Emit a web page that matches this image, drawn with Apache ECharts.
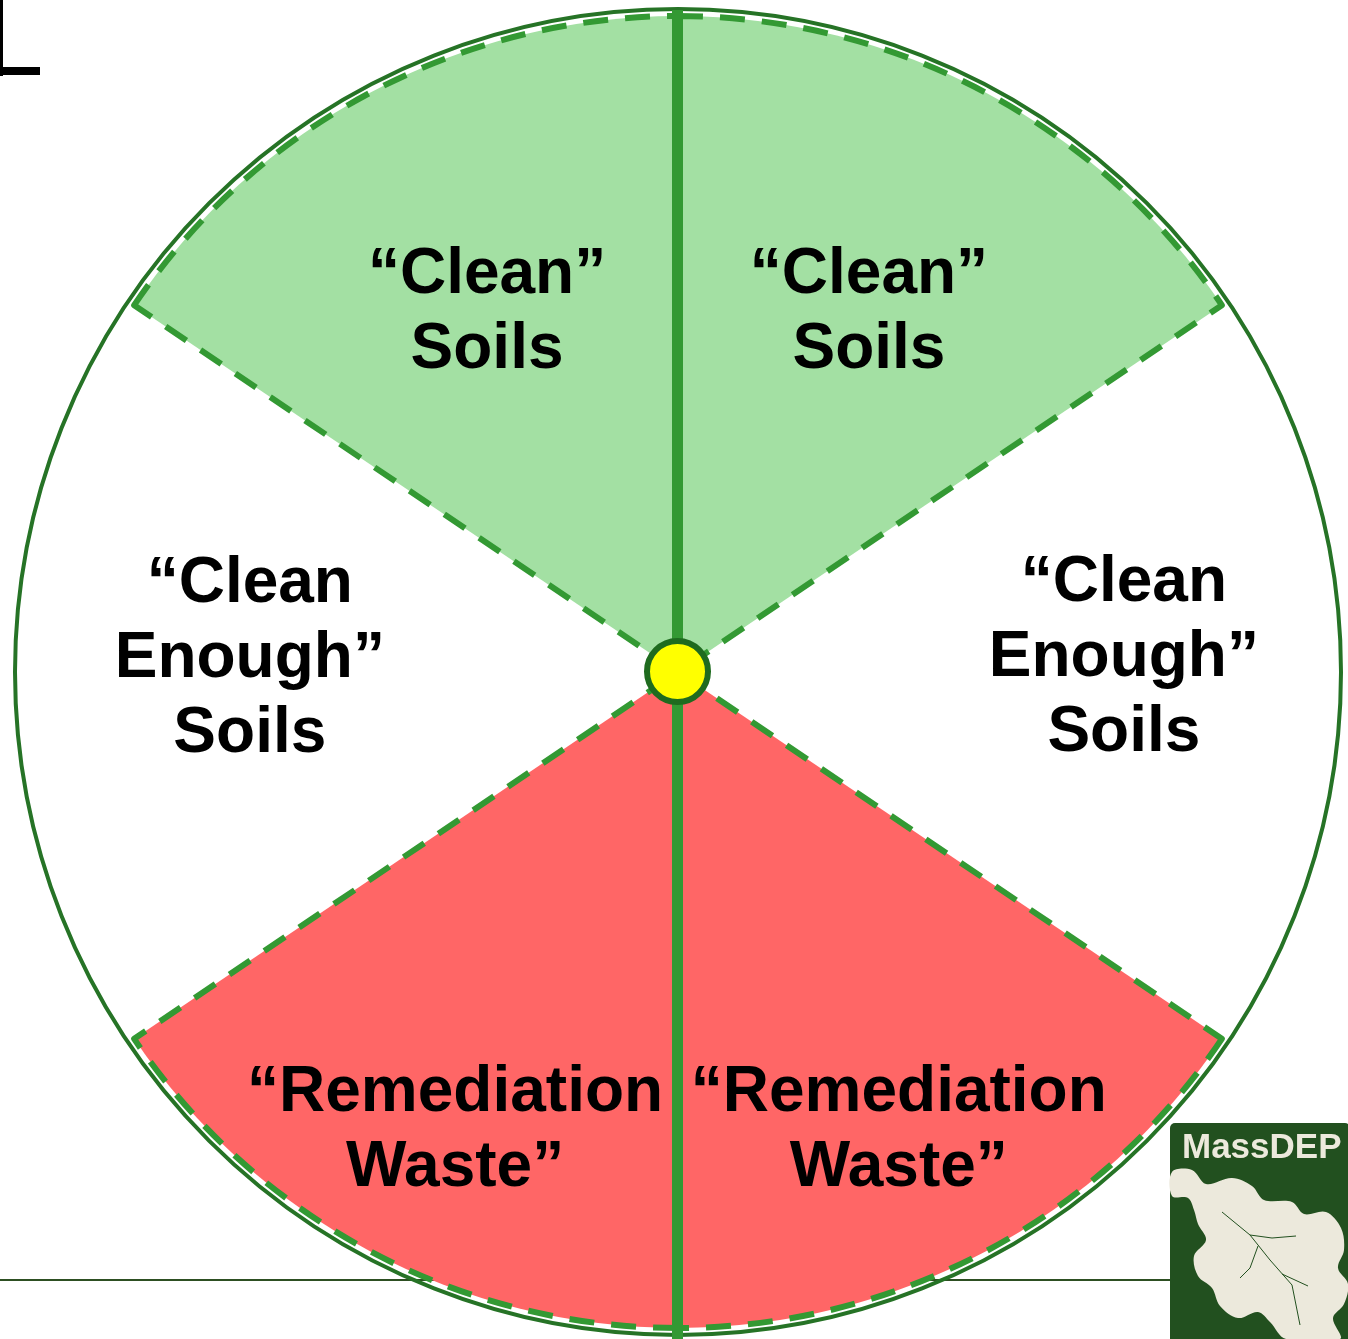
<!DOCTYPE html>
<html>
<head>
<meta charset="utf-8">
<script src="https://cdn.jsdelivr.net/npm/echarts@6/dist/echarts.min.js"></script>
<style>
  html, body { margin: 0; padding: 0; background: #fff; }
  #chart1 { width: 1348px; height: 1339px; }
</style>
</head>
<body>
<div id="chart1"></div>
<script>
// sectors, clockwise from 12 o'clock
var names = ['“Clean”\nSoils', '“Clean\nEnough”\nSoils', '“Remediation\nWaste”',
             '“Remediation\nWaste”', '“Clean\nEnough”\nSoils', '“Clean”\nSoils'];
var values = [56, 68, 56, 56, 68, 56];
var fills = ['#a3e0a3', 'transparent', '#ff6666', '#ff6666', 'transparent', '#a3e0a3'];
// where each label sits: polar angle (deg) and share of the radius
var labelAngle = [62, 1.7, -64.3, -115.9, 178.3, 118];
var labelRadius = [0.62, 0.68, 0.776, 0.778, 0.653, 0.62];

var cx = 678, cy = 672, R = 656;

document.addEventListener('DOMContentLoaded', function () {
  var myChart = echarts.init(document.getElementById('chart1'));

  var pieData = names.map(function (n, i) {
    var colored = fills[i] !== 'transparent';
    return {
      name: n,
      value: values[i],
      itemStyle: {
        color: fills[i],
        borderColor: colored ? '#339933' : 'transparent',
        borderWidth: colored ? 6 : 0,
        borderType: [25, 17]
      }
    };
  });

  var option = {
    animation: false,
    graphic: [
      // little "L" fragment top-left
      { type: 'rect', shape: { x: 0, y: 0, width: 3, height: 76 }, style: { fill: '#000' }, z: 1 },
      { type: 'rect', shape: { x: 0, y: 67, width: 40, height: 8 }, style: { fill: '#000' }, z: 1 },
      // slide rule line
      { type: 'line', shape: { x1: 0, y1: 1280, x2: 1175, y2: 1280 }, style: { stroke: '#2d4f22', lineWidth: 2 }, z: -1 },
      // outer circle
      { type: 'circle', shape: { cx: cx, cy: cy, r: 663 }, style: { fill: null, stroke: '#267326', lineWidth: 4 }, z: 10 },
      // centre divider
      { type: 'rect', shape: { x: 672, y: 10, width: 11, height: 1329 }, style: { fill: '#339933' }, z: 11 },
      // centre dot
      { type: 'circle', shape: { cx: cx - 0.5, cy: cy - 0.5, r: 30.5 }, style: { fill: '#ffff00', stroke: '#1f6b1f', lineWidth: 6 }, z: 12 },
      // MassDEP logo
      { type: 'rect', shape: { x: 1170, y: 1123, width: 180, height: 220, r: 5 }, style: { fill: '#22501f' }, z: 13 },
      { type: 'text', x: 1182, y: 1166, style: { text: 'MassDEP', fill: '#ece9dc', font: 'bold 35px "Liberation Sans", Arial, sans-serif', textVerticalAlign: 'bottom' }, z: 14 },
      {
        type: 'polygon', z: 14,
        shape: {
          smooth: 0.35,
          points: [[1172, 1172], [1192, 1170], [1206, 1184], [1232, 1178], [1252, 1186], [1264, 1200],
                   [1292, 1202], [1304, 1214], [1326, 1212], [1341, 1228], [1344, 1250], [1338, 1268],
                   [1348, 1284], [1344, 1304], [1333, 1318], [1340, 1339], [1286, 1339], [1270, 1322],
                   [1258, 1312], [1238, 1318], [1220, 1306], [1212, 1288], [1198, 1276], [1194, 1256],
                   [1206, 1240], [1198, 1224], [1194, 1210], [1188, 1198], [1172, 1196]]
        },
        style: { fill: '#ece9dc' }
      },
      { type: 'polyline', z: 15, shape: { points: [[1222, 1212], [1250, 1235], [1270, 1260], [1292, 1285], [1300, 1325]] }, style: { stroke: '#22501f', lineWidth: 1, fill: null } },
      { type: 'polyline', z: 15, shape: { points: [[1250, 1235], [1272, 1238], [1296, 1236]] }, style: { stroke: '#22501f', lineWidth: 1, fill: null } },
      { type: 'polyline', z: 15, shape: { points: [[1258, 1246], [1250, 1268], [1240, 1278]] }, style: { stroke: '#22501f', lineWidth: 1, fill: null } },
      { type: 'polyline', z: 15, shape: { points: [[1282, 1274], [1308, 1286]] }, style: { stroke: '#22501f', lineWidth: 1, fill: null } }
    ],
    series: [
      {
        type: 'pie',
        center: [cx, cy],
        radius: [0, R],
        startAngle: 90,
        clockwise: true,
        silent: true,
        z: 2,
        label: {
          show: true,
          position: 'inside',
          rotate: 0,
          formatter: '{b}',
          color: '#000',
          fontFamily: '"Liberation Sans", Arial, sans-serif',
          fontWeight: 'bold',
          fontSize: 64,
          lineHeight: 75
        },
        labelLine: { show: false },
        labelLayout: function (params) {
          var i = params.dataIndex;
          var a = labelAngle[i] * Math.PI / 180;
          var r = labelRadius[i] * R;
          return { x: cx + r * Math.cos(a), y: cy - r * Math.sin(a) };
        },
        data: pieData
      }
    ]
  };

  myChart.setOption(option);
});
</script>
</body>
</html>
